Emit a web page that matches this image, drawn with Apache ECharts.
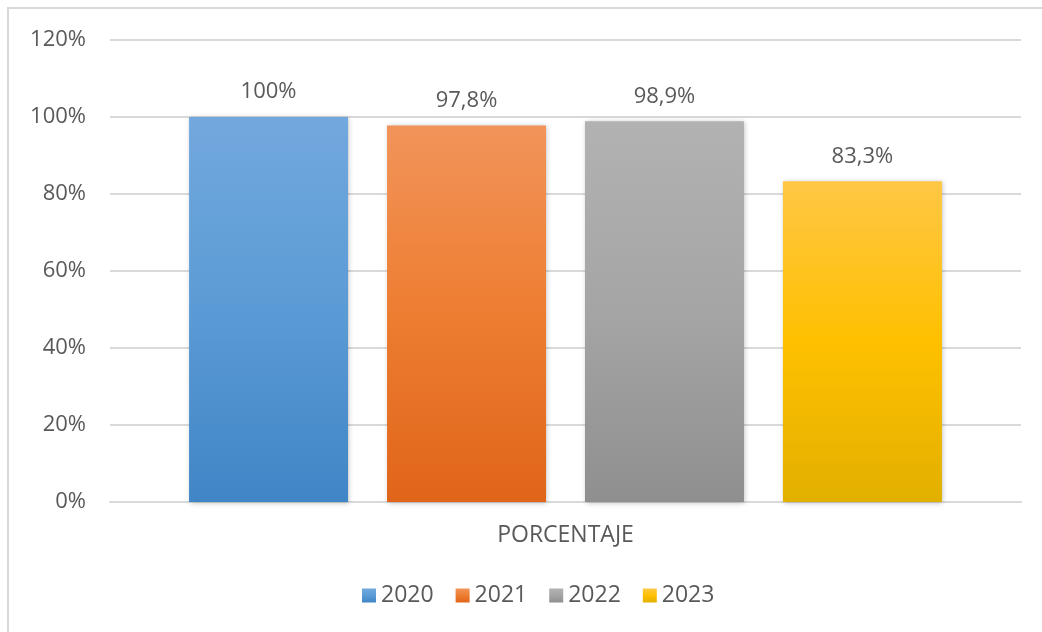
<!DOCTYPE html>
<html>
<head>
<meta charset="utf-8">
<script src="https://cdn.jsdelivr.net/npm/echarts@6/dist/echarts.min.js"></script>
<style>
  html, body { margin: 0; padding: 0; background: #fff; }
  #chart { width: 1042px; height: 632px; }
</style>
</head>
<body>
<div id="chart"></div>
<script>
var categories = ['PORCENTAJE'];
var years = ['2020', '2021', '2022', '2023'];
var values = [100, 97.8, 98.9, 83.3];
var yTicks = [0, 20, 40, 60, 80, 100, 120];

// top / middle / bottom of each bar's gradient
var gradients = [
    ['#72a8de', '#5b9bd5', '#4085c6'],
    ['#f2945a', '#ed7d31', '#e0651a'],
    ['#b2b2b2', '#a5a5a5', '#8f8f8f'],
    ['#ffc745', '#ffc000', '#e2b000']
];

var chart = echarts.init(document.getElementById('chart'));
var font = '"Open Sans", sans-serif';

var series = years.map(function (y, i) {
    var g = gradients[i];
    return {
        name: y,
        type: 'bar',
        barWidth: 159,
        barGap: '24.5%',
        data: [values[i]],
        itemStyle: {
            color: new echarts.graphic.LinearGradient(0, 0, 0, 1, [
                {offset: 0, color: g[0]},
                {offset: 0.5, color: g[1]},
                {offset: 1, color: g[2]}
            ]),
            shadowBlur: 5,
            shadowColor: 'rgba(0,0,0,0.25)',
            shadowOffsetX: 1,
            shadowOffsetY: 1
        },
        label: {
            show: true,
            position: 'top',
            distance: 14,
            color: '#595959',
            fontFamily: font,
            fontSize: 22,
            formatter: function (p) {
                return String(p.value).replace('.', ',') + '%';
            }
        }
    };
});

chart.setOption({
    animation: false,
    color: gradients.map(function (g) { return g[1]; }),
    graphic: [{
        type: 'rect',
        shape: {x: 8, y: 8, width: 1100, height: 700},
        style: {fill: null, stroke: '#d9d9d9', lineWidth: 2},
        silent: true
    }],
    grid: {left: 110, right: 21, top: 40, bottom: 130},
    legend: {
        data: years,
        left: 357,
        top: 579,
        itemWidth: 14,
        itemHeight: 14,
        itemGap: 22,
        icon: 'rect',
        textStyle: {color: '#595959', fontFamily: font, fontSize: 23, padding: [0, 0, 0, 0]}
    },
    xAxis: {
        type: 'category',
        data: categories,
        axisLine: {lineStyle: {color: '#d9d9d9', width: 2}},
        axisTick: {show: false},
        axisLabel: {color: '#595959', fontFamily: font, fontSize: 23, margin: 22}
    },
    yAxis: {
        type: 'value',
        min: yTicks[0],
        max: yTicks[yTicks.length - 1],
        interval: 20,
        axisLine: {show: false},
        axisTick: {show: false},
        splitLine: {lineStyle: {color: '#d9d9d9', width: 2}},
        axisLabel: {
            color: '#595959', fontFamily: font, fontSize: 22, margin: 24,
            formatter: '{value}%'
        }
    },
    series: series
});
</script>
</body>
</html>
